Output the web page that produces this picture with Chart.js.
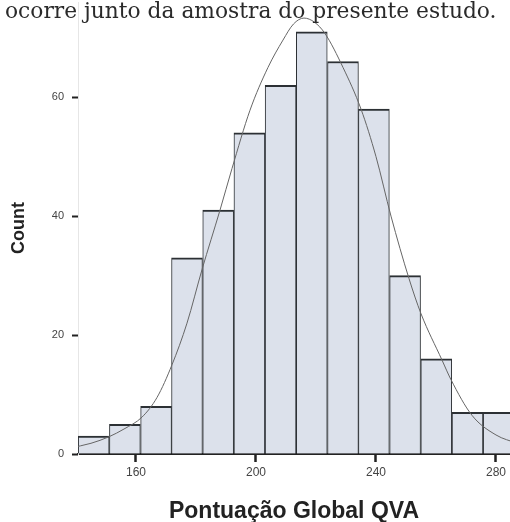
<!DOCTYPE html>
<html>
<head>
<meta charset="utf-8">
<script src="https://cdn.jsdelivr.net/npm/chart.js@4.4.1/dist/chart.umd.min.js"></script>
<style>
    html, body { margin: 0; padding: 0; background: #fff; }
    #wrap { position: relative; width: 510px; height: 522px; }
    #texto {
        position: absolute; left: 5px; top: 0px;
        font-family: 'DejaVu Serif', 'Liberation Serif', serif;
        font-size: 20px; line-height: 22px; color: #2a2a2a; white-space: nowrap;
    }
</style>
</head>
<body>
<div id="wrap">
    <canvas id="histograma" width="510" height="522"></canvas>
    <div id="texto">ocorre junto da amostra do presente estudo.</div>
</div>
<script>
// classes do histograma (centro de cada barra) e frequências
const centrosClasses = [145.9, 156.3, 166.7, 177.0, 187.4, 197.8, 208.2, 218.6, 229.0, 239.3, 249.7, 260.1, 270.5, 280.9];
const frequencias = [3, 5, 8, 33, 41, 54, 62, 71, 66, 58, 30, 16, 7, 7];

// curva normal
const curvaX = [138, 145, 151, 156, 162, 167, 172, 177, 182, 188, 192, 198, 204, 209, 212.5, 216, 219.5, 223, 229, 235, 240, 245, 251, 255, 262, 265, 272, 280, 287];
const curvaY = [1.0, 1.8, 2.9, 4.2, 6.2, 9.5, 15, 22, 31, 41, 48, 57.8, 65, 69.6, 72.3, 73.3, 72.6, 70.7, 65, 58, 50, 40, 29.5, 23.6, 15.8, 12.5, 6.5, 3.2, 1.8];

const ticksX = [160, 200, 240, 280];
const ticksY = [0, 20, 40, 60];

// ajusta a largura da frase do topo
const texto = document.getElementById('texto');
const larg = texto.getBoundingClientRect().width;
texto.style.fontSize = (20 * 492 / larg) + 'px';

const ctx = document.getElementById('histograma');
new Chart(ctx, {
    type: 'bar',
    data: {
        datasets: [
            {
                type: 'line',
                data: curvaX.map((x, i) => ({ x: x, y: curvaY[i] })),
                borderColor: '#666',
                borderWidth: 1,
                pointRadius: 0,
                cubicInterpolationMode: 'monotone',
                fill: false,
                order: 0
            },
            {
                type: 'bar',
                data: centrosClasses.map((x, i) => ({ x: x, y: frequencias[i] })),
                backgroundColor: '#dce1eb',
                borderColor: '#2c3034',
                borderWidth: { top: 2, left: 1, right: 1, bottom: 0 },
                borderSkipped: false,
                barPercentage: 1,
                categoryPercentage: 1,
                order: 1
            }
        ]
    },
    options: {
        responsive: false,
        animation: false,
        layout: { padding: { top: 2, right: 0, bottom: 0, left: 0 } },
        plugins: {
            legend: { display: false },
            tooltip: { enabled: false }
        },
        scales: {
            x: {
                type: 'linear',
                offset: false,
                min: 140.67,
                max: 284.67,
                afterBuildTicks: function(scale) {
                    scale.ticks = ticksX.map(v => ({ value: v }));
                },
                afterFit: function(scale) {
                    scale.height = 68;
                    scale.paddingLeft = 0;
                    scale.paddingRight = 0;
                },
                grid: { offset: false, drawOnChartArea: false, tickLength: 8, tickWidth: 2.5, color: '#222' },
                border: { display: true, color: '#222', width: 2 },
                ticks: {
                    padding: 3,
                    color: '#444',
                    font: { family: 'Liberation Sans, Arial, sans-serif', size: 12 }
                },
                title: {
                    display: true,
                    text: 'Pontuação Global QVA',
                    color: '#222',
                    padding: { top: 0, bottom: 0 },
                    font: { family: 'Liberation Sans, Arial, sans-serif', size: 23, weight: 'bold', lineHeight: 0.9 }
                }
            },
            y: {
                min: 0,
                max: 76,
                afterBuildTicks: function(scale) {
                    scale.ticks = ticksY.map(v => ({ value: v }));
                },
                afterFit: function(scale) {
                    scale.width = 78;
                    scale.paddingTop = 0;
                    scale.paddingBottom = 0;
                },
                grid: { drawOnChartArea: false, tickLength: 6, tickWidth: 2, color: '#222' },
                border: { display: true, color: '#e6e6e6', width: 1 },
                ticks: {
                    padding: 8,
                    color: '#444',
                    font: { family: 'Liberation Sans Narrow, Liberation Sans, Arial, sans-serif', size: 11 }
                },
                title: {
                    display: true,
                    text: 'Count',
                    color: '#222',
                    padding: { top: 8, bottom: 0 },
                    font: { family: 'Liberation Sans, Arial, sans-serif', size: 18, weight: 'bold' }
                }
            }
        }
    }
});
</script>
</body>
</html>
